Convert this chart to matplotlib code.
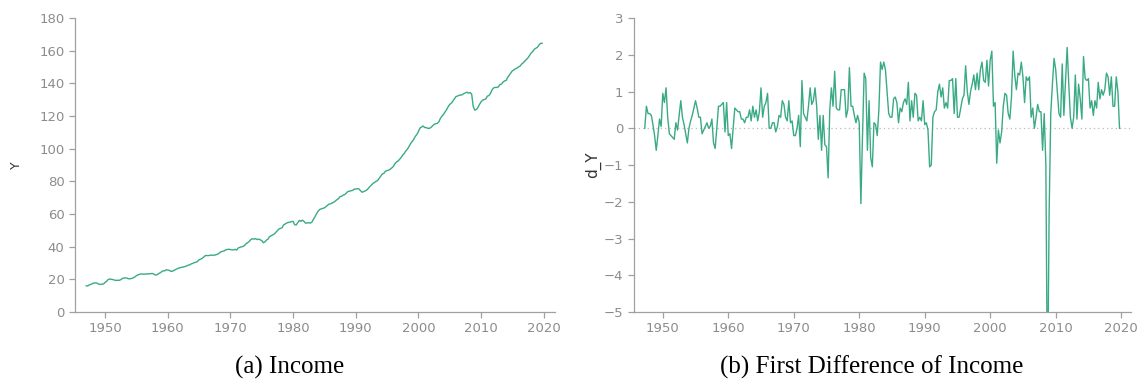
import numpy as np
import matplotlib.pyplot as plt

# quarterly income series, first quarter 1947Q1
start_year = 1947.0
y_first = 16.0

# first difference of income, 1947Q2 .. 2019Q4 (one row per year)
d_y = [
    0.0, 0.6, 0.4,               # 1947
    0.4, 0.35, 0.1, -0.2,        # 1948
    -0.6, -0.2, 0.25, 0.05,      # 1949
    0.95, 0.7, 1.1, 0.3,         # 1950
    -0.15, -0.2, -0.25, -0.3,
    0.15, -0.05, 0.35, 0.75,
    0.3, 0.1, -0.15, -0.4,
    0.0, 0.2, 0.35, 0.55,
    0.75, 0.55, 0.3, 0.3,        # 1955
    -0.15, -0.05, 0.05, 0.15,
    0.0, 0.05, 0.25, -0.4,
    -0.55, 0.0, 0.6, 0.6,
    0.65, 0.7, -0.1, 0.7,
    -0.2, -0.15, -0.55, 0.0,     # 1960
    0.55, 0.5, 0.45, 0.45,
    0.25, 0.25, 0.15, 0.3,
    0.3, 0.5, 0.2, 0.6,
    0.3, 0.5, 0.2, 0.45,
    1.1, 0.3, 0.6, 0.7,          # 1965
    0.95, 0.0, 0.0, 0.15,
    0.15, -0.1, 0.05, 0.35,
    0.3, 0.75, 0.65, 0.3,
    0.2, 0.75, 0.15, 0.2,
    -0.2, -0.2, 0.0, 0.35,       # 1970
    -0.5, 1.3, 0.4, 0.3,
    0.2, 0.6, 1.1, 0.65,
    0.75, 1.1, 0.6, -0.3,
    0.35, -0.6, 0.35, -0.45,
    -0.5, -1.35, 0.5, 1.1,       # 1975
    0.6, 1.55, 0.55, 0.5,
    0.5, 1.05, 1.05, 1.05,
    0.3, 0.5, 1.65, 0.6,
    0.6, 0.35, 0.15, 0.35,
    0.15, -2.05, -0.2, 1.5,      # 1980
    1.35, -0.6, 0.75, -0.8,
    -1.05, 0.15, 0.1, -0.2,
    0.5, 1.8, 1.6, 1.8,
    1.6, 1.0, 0.4, 0.3,
    0.3, 0.8, 0.85, 0.7,         # 1985
    0.15, 0.55, 0.45, 0.7,
    0.8, 0.65, 1.25, 0.2,
    0.75, 0.3, 0.95, 0.9,
    0.2, 0.3, 0.2, 0.75,
    0.1, 0.15, -0.05, -1.05,     # 1990
    -1.0, 0.3, 0.45, 0.5,
    1.0, 1.2, 0.85, 1.1,
    0.55, 0.7, 0.55, 1.3,
    1.3, 1.35, 0.4, 1.35,
    0.3, 0.3, 0.55, 0.8,         # 1995
    0.9, 1.7, 1.0, 0.65,
    1.0, 1.2, 1.45, 1.05,
    1.5, 1.05, 1.6, 1.8,
    1.3, 1.25, 1.85, 1.15,
    1.85, 2.1, 0.6, 0.7,         # 2000
    -0.95, -0.05, -0.4, -0.1,
    0.6, 0.95, 0.9, 0.4,
    0.25, 0.85, 2.1, 1.45,
    1.05, 1.5, 1.45, 1.8,
    1.4, 0.7, 1.4, 1.3,          # 2005
    1.4, 0.3, 0.55, 0.0,
    0.3, 0.65, 0.45, 0.45,
    -0.6, 0.4, -1.0, -7.5,
    -2.3, 0.4, 1.2, 1.9,
    1.6, 1.0, 0.4, 0.3,          # 2010
    1.75, 0.35, 1.3, 2.2,
    1.2, 0.3, 0.0, 0.3,
    1.45, 0.25, 1.2, 0.8,
    0.25, 1.95, 1.35, 1.3,
    1.35, 0.55, 0.75, 0.35,      # 2015
    0.75, 0.55, 1.25, 0.8,
    1.05, 0.9, 1.05, 1.5,
    1.4, 0.9, 1.4, 0.6,
    0.6, 1.4, 1.0, 0.0,          # 2019
]

xticks = [1950, 1960, 1970, 1980, 1990, 2000, 2010, 2020]

d_y = np.array(d_y)
y = np.concatenate([[y_first], y_first + np.cumsum(d_y)])
t = start_year + np.arange(len(y)) / 4

line_col = '#3aaa85'
tick_col = '#8f8b8b'
spine_col = '#a0a0a0'

fig = plt.figure(figsize=(11.46, 3.85), dpi=100)
ax1 = fig.add_axes([0.0654, 0.1896, 0.4189, 0.7636])
ax2 = fig.add_axes([0.5532, 0.1896, 0.4337, 0.7636])

ax1.plot(t, y, color=line_col, lw=1.0)
ax1.set_xlim(1945.2, 2021.8)
ax1.set_ylim(0, 180)
ax1.set_yticks(np.arange(0, 181, 20))
ax1.set_ylabel('Y', fontsize=9, color='#333333')
ax1.yaxis.set_label_coords(-0.108, 0.5)

ax2.axhline(0, color='#bbbbbb', lw=0.9, ls=(0, (1, 2.5)))
ax2.plot(t[1:], d_y, color=line_col, lw=1.0)
ax2.set_xlim(1945.6, 2021.5)
ax2.set_ylim(-5, 3)
ax2.set_yticks(np.arange(-5, 4, 1))
ax2.set_ylabel('d_Y', fontsize=11, color='#333333')
ax2.yaxis.set_label_coords(-0.067, 0.5)

for ax in (ax1, ax2):
    ax.set_xticks(xticks)
    for s in ('top', 'right'):
        ax.spines[s].set_visible(False)
    for s in ('left', 'bottom'):
        ax.spines[s].set_color(spine_col)
        ax.spines[s].set_linewidth(0.9)
    ax.tick_params(colors=spine_col, labelcolor=tick_col, labelsize=9.5,
                   length=4, width=0.9, direction='out')

fig.text(0.253, 0.045, '(a) Income', ha='center', va='center',
         family='Liberation Serif', fontsize=18)
fig.text(0.761, 0.045, '(b) First Difference of Income', ha='center', va='center',
         family='Liberation Serif', fontsize=18)

fig.savefig('out.png', dpi=100)
